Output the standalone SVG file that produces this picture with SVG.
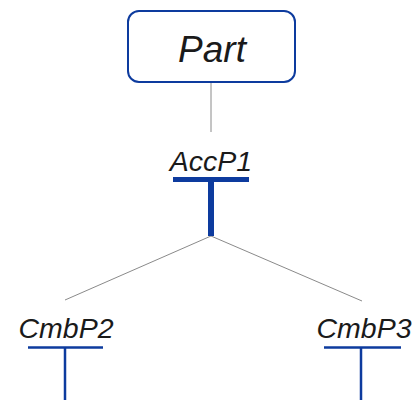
<svg xmlns="http://www.w3.org/2000/svg" width="416" height="400" viewBox="0 0 416 400">
<style>
.lbl{font-family:"Liberation Sans",Arial,sans-serif;font-style:italic;fill:#1a1a1a;text-anchor:middle}
.conn{stroke:#8a8a8a;stroke-width:1;fill:none}
.bar{fill:#0d3b9e}
.thin{stroke:#0d3b9e;stroke-width:2.5;fill:none}
</style>
<rect width="416" height="400" fill="#fff"/>
<g id="connectors">
<line class="conn" x1="211" y1="82" x2="211" y2="132"/>
<line class="conn" x1="211" y1="236" x2="65" y2="300"/>
<line class="conn" x1="211" y1="236" x2="362" y2="301"/>
</g>
<g id="part">
<rect x="128" y="11" width="167" height="71" rx="11" fill="#fff" stroke="#0d3b9e" stroke-width="2"/>
<text class="lbl" x="212" y="62" font-size="37">Part</text>
</g>
<g id="accp1">
<text class="lbl" x="211" y="171" font-size="28.5">AccP1</text>
<rect class="bar" x="173" y="177" width="76" height="5"/>
<rect class="bar" x="208" y="182" width="6" height="54"/>
</g>
<g id="cmbp2">
<text class="lbl" x="66" y="338" font-size="28.5">CmbP2</text>
<line class="thin" x1="28" y1="347.5" x2="103" y2="347.5"/>
<line class="thin" x1="65" y1="347.5" x2="65" y2="400"/>
</g>
<g id="cmbp3">
<text class="lbl" x="364" y="338" font-size="28.5">CmbP3</text>
<line class="thin" x1="324" y1="347.5" x2="401" y2="347.5"/>
<line class="thin" x1="361" y1="347.5" x2="361" y2="400"/>
</g>
</svg>
